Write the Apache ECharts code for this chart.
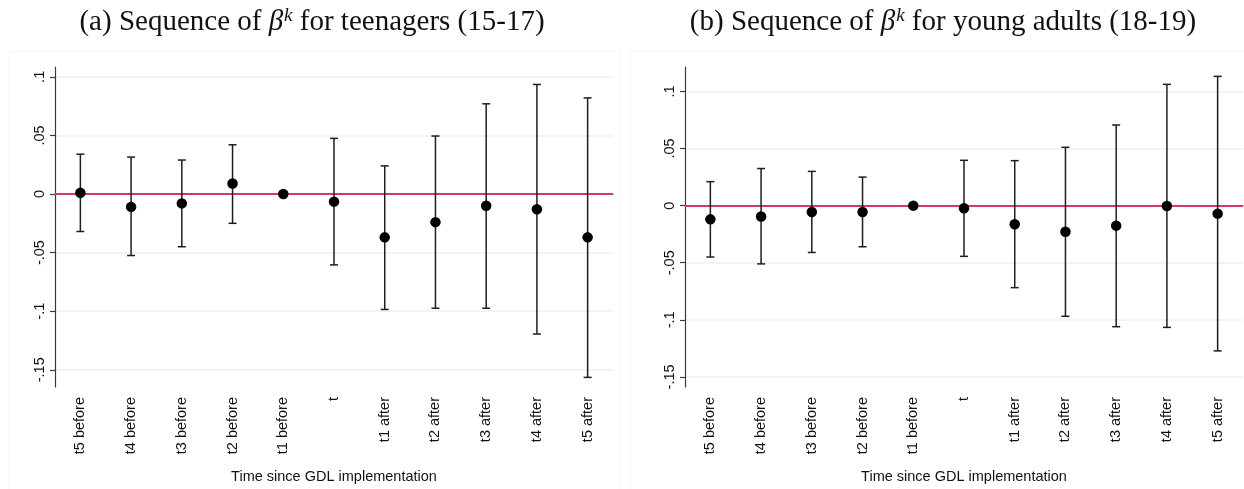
<!DOCTYPE html>
<html>
<head>
<meta charset="utf-8">
<script src="https://cdn.jsdelivr.net/npm/echarts@6/dist/echarts.min.js"></script>
<style>
html,body{margin:0;padding:0;background:#fff;}
#chart{width:1244px;height:489px;}
</style>
</head>
<body>
<div id="chart"></div>
<script>
const categories = ['t5 before','t4 before','t3 before','t2 before','t1 before','t','t1 after','t2 after','t3 after','t4 after','t5 after'];
const yTicks = [-0.15, -0.1, -0.05, 0, 0.05, 0.1];
const yTickLabels = ['-.15', '-.1', '-.05', '0', '.05', '.1'];

// (a) teenagers 15-17
const teenCoef = [0.001, -0.011, -0.008, 0.009, 0.000, -0.0065, -0.037, -0.024, -0.010, -0.013, -0.037];
const teenLow  = [-0.032, -0.0525, -0.045, -0.025, null, -0.0605, -0.0985, -0.0975, -0.0975, -0.1195, -0.1565];
const teenHigh = [0.034, 0.0315, 0.029, 0.042, null, 0.0475, 0.024, 0.0495, 0.077, 0.0935, 0.082];

// (b) young adults 18-19
const adultCoef = [-0.012, -0.0095, -0.0055, -0.0055, 0.000, -0.0023, -0.0163, -0.0228, -0.0175, -0.0003, -0.007];
const adultLow  = [-0.045, -0.051, -0.041, -0.036, null, -0.0444, -0.0718, -0.0969, -0.106, -0.1066, -0.1272];
const adultHigh = [0.021, 0.0325, 0.030, 0.025, null, 0.0397, 0.0394, 0.0511, 0.0706, 0.1062, 0.1132];

const xAxisTitle = 'Time since GDL implementation';
const titleA = '(a) Sequence of {b|β}{k|k} for teenagers (15-17)';
const titleB = '(b) Sequence of {b|β}{k|k} for young adults (18-19)';

function barData(low, high) {
  const out = [];
  for (let i = 0; i < categories.length; i++) {
    if (low[i] !== null && high[i] !== null) out.push([i, low[i], high[i]]);
  }
  return out;
}
function tickLabel(v) {
  for (let i = 0; i < yTicks.length; i++) {
    if (Math.abs(v - yTicks[i]) < 1e-9) return yTickLabels[i];
  }
  return '';
}

const axisColor = '#3a3a3a';
const gridColor = '#eaf1f2';
const sans = 'Liberation Sans, Arial, sans-serif';
const serif = 'Liberation Serif, DejaVu Serif, serif';

function makeX(gridIndex) {
  return {
    type: 'category', gridIndex: gridIndex, data: categories, boundaryGap: true,
    axisLine: {lineStyle: {color: axisColor, width: 1.2}},
    axisTick: {alignWithLabel: true, length: 8, lineStyle: {color: axisColor, width: 1.2}},
    axisLabel: {rotate: 90, color: '#111', fontFamily: sans, fontSize: 14.5, margin: 10},
    splitLine: {show: false},
    name: xAxisTitle, nameLocation: 'middle', nameGap: 82,
    nameTextStyle: {color: '#111', fontFamily: sans, fontSize: 14.5}
  };
}
function makeY(gridIndex, min, max) {
  return {
    type: 'value', gridIndex: gridIndex, min: min, max: max,
    axisLine: {show: true, lineStyle: {color: axisColor, width: 1.2}},
    axisTick: {show: true, length: 5, customValues: yTicks, lineStyle: {color: axisColor, width: 1.2}},
    axisLabel: {rotate: 90, customValues: yTicks, formatter: tickLabel, color: '#111', fontFamily: sans, fontSize: 14.5, margin: 8},
    splitLine: {show: true, lineStyle: {color: gridColor, width: 1.5}}
  };
}
function errSeries(idx, low, high) {
  return {
    type: 'custom', xAxisIndex: idx, yAxisIndex: idx, z: 3,
    data: barData(low, high),
    encode: {x: 0, y: [1, 2]},
    renderItem: function (params, api) {
      const x = api.value(0);
      const lo = api.coord([x, api.value(1)]);
      const hi = api.coord([x, api.value(2)]);
      const w = 4;
      const st = {stroke: '#1e1e1e', lineWidth: 1.5};
      return {type: 'group', children: [
        {type: 'line', shape: {x1: lo[0], y1: lo[1], x2: hi[0], y2: hi[1]}, style: st},
        {type: 'line', shape: {x1: lo[0] - w, y1: lo[1], x2: lo[0] + w, y2: lo[1]}, style: st},
        {type: 'line', shape: {x1: hi[0] - w, y1: hi[1], x2: hi[0] + w, y2: hi[1]}, style: st}
      ]};
    }
  };
}
function pointSeries(idx, coef) {
  return {
    type: 'scatter', xAxisIndex: idx, yAxisIndex: idx, z: 4,
    data: coef.map((v, i) => [i, v]),
    symbol: 'circle', symbolSize: 10.5,
    itemStyle: {color: '#000', opacity: 1},
    markLine: {
      silent: true, symbol: 'none', z: 2,
      label: {show: false},
      lineStyle: {color: '#d23a62', width: 2, type: 'solid'},
      data: [{yAxis: 0}]
    }
  };
}

const richTitle = {
  b: {fontFamily: serif, fontSize: 29, fontStyle: 'italic', fill: '#111'},
  k: {fontFamily: serif, fontSize: 19, fontStyle: 'italic', fill: '#111', verticalAlign: 'top', padding: [0, 0, 14, 1]}
};

const chart = echarts.init(document.getElementById('chart'), null, {renderer: 'canvas'});
chart.setOption({
  animation: false,
  backgroundColor: '#fff',
  grid: [
    {left: 55, top: 67, width: 558, height: 320, containLabel: false},
    {left: 685, top: 67, width: 558, height: 320, containLabel: false}
  ],
  xAxis: [makeX(0), makeX(1)],
  yAxis: [makeY(0, -0.1647, 0.1084), makeY(1, -0.1588, 0.1214)],
  graphic: [
    {type: 'rect', shape: {x: 8.5, y: 51.5, width: 612, height: 440}, style: {fill: 'none', stroke: '#f7f7f7', lineWidth: 1}, z: -1},
    {type: 'rect', shape: {x: 630.5, y: 51.5, width: 620, height: 440}, style: {fill: 'none', stroke: '#f7f7f7', lineWidth: 1}, z: -1},
    {type: 'text', x: 312, y: 6, style: {text: titleA, rich: richTitle, font: '29px ' + serif, fill: '#111', align: 'center'}},
    {type: 'text', x: 943, y: 6, style: {text: titleB, rich: richTitle, font: '29px ' + serif, fill: '#111', align: 'center'}}
  ],
  series: [
    errSeries(0, teenLow, teenHigh),
    pointSeries(0, teenCoef),
    errSeries(1, adultLow, adultHigh),
    pointSeries(1, adultCoef)
  ]
});
</script>
</body>
</html>
